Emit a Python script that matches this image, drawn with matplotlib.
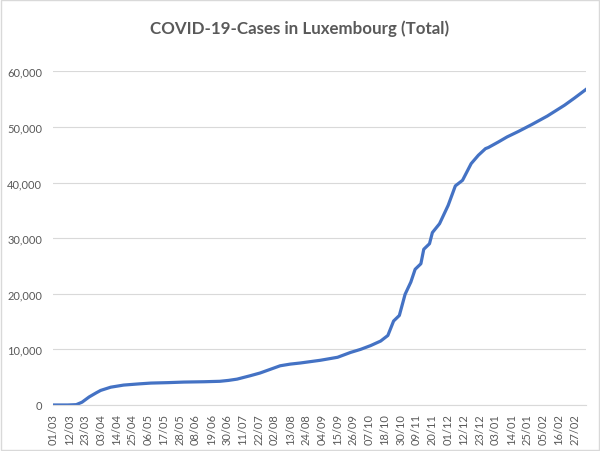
import matplotlib.pyplot as plt
from matplotlib.patches import Rectangle
from matplotlib.ticker import FuncFormatter, MultipleLocator

# days since 01/03/2020 and total cases
day_idx = [0, 10, 16, 20, 25, 30, 33, 40, 49, 60, 68, 80, 91, 105, 116, 122,
           128, 137, 144, 151, 158, 165, 172, 186, 198, 207, 214, 221, 228,
           233, 237, 241, 245, 249, 252, 256, 258, 262, 264, 269, 275, 280,
           285, 291, 296, 301, 303, 310, 316, 324, 333, 344, 356, 363, 371]
cases = [0, 0, 60, 500, 1450, 2200, 2620, 3200, 3580, 3800, 3940, 4020, 4120,
         4180, 4260, 4420, 4650, 5250, 5750, 6400, 7050, 7350, 7550, 8040,
         8580, 9450, 10000, 10680, 11500, 12500, 15100, 16100, 19900, 22100,
         24400, 25400, 28000, 29000, 31000, 32600, 35900, 39400, 40400, 43400,
         44900, 46100, 46300, 47300, 48200, 49200, 50400, 51950, 53900, 55200,
         56750]

tick_labels = ["01/03", "12/03", "23/03", "03/04", "14/04", "25/04", "06/05",
               "17/05", "28/05", "08/06", "19/06", "30/06", "11/07", "22/07",
               "02/08", "13/08", "24/08", "04/09", "15/09", "26/09", "07/10",
               "18/10", "30/10", "09/11", "20/11", "01/12", "12/12", "23/12",
               "03/01", "14/01", "25/01", "05/02", "16/02", "27/02"]

plt.rcParams["font.family"] = ["Lato", "DejaVu Sans"]
grey = "#595959"
grid = "#D9D9D9"

fig = plt.figure(figsize=(6, 4.52), dpi=100)
ax = fig.add_axes([0.0888, 0.1018, 0.8879, 0.7382])

ax.plot(day_idx, cases, color="#4472C4", lw=2.3, solid_joinstyle="round")

ax.set_xlim(0, 371)
ax.set_ylim(0, 60000)
ax.yaxis.set_major_locator(MultipleLocator(10000))
ax.yaxis.set_major_formatter(FuncFormatter(lambda v, p: f"{int(v):,}"))
ax.set_xticks([i * 11 for i in range(len(tick_labels))])
ax.set_xticklabels(tick_labels, rotation=90)

ax.grid(axis="y", color=grid, lw=0.8)
ax.set_axisbelow(True)
for s in ["top", "right", "left"]:
    ax.spines[s].set_visible(False)
ax.spines["bottom"].set_color(grid)
ax.spines["bottom"].set_linewidth(0.8)
ax.tick_params(axis="both", length=0, labelsize=8, colors=grey)
ax.tick_params(axis="y", pad=8)
ax.tick_params(axis="x", pad=6)

fig.text(0.5, 0.936, "COVID-19-Cases in Luxembourg (Total)", ha="center",
         va="center", fontsize=12.2, fontweight="bold", color=grey)

fig.patches.append(Rectangle((0.001, 0.002), 0.997, 0.996, transform=fig.transFigure,
                             fill=False, edgecolor=grid, lw=1))

fig.savefig("out.png", dpi=100)
